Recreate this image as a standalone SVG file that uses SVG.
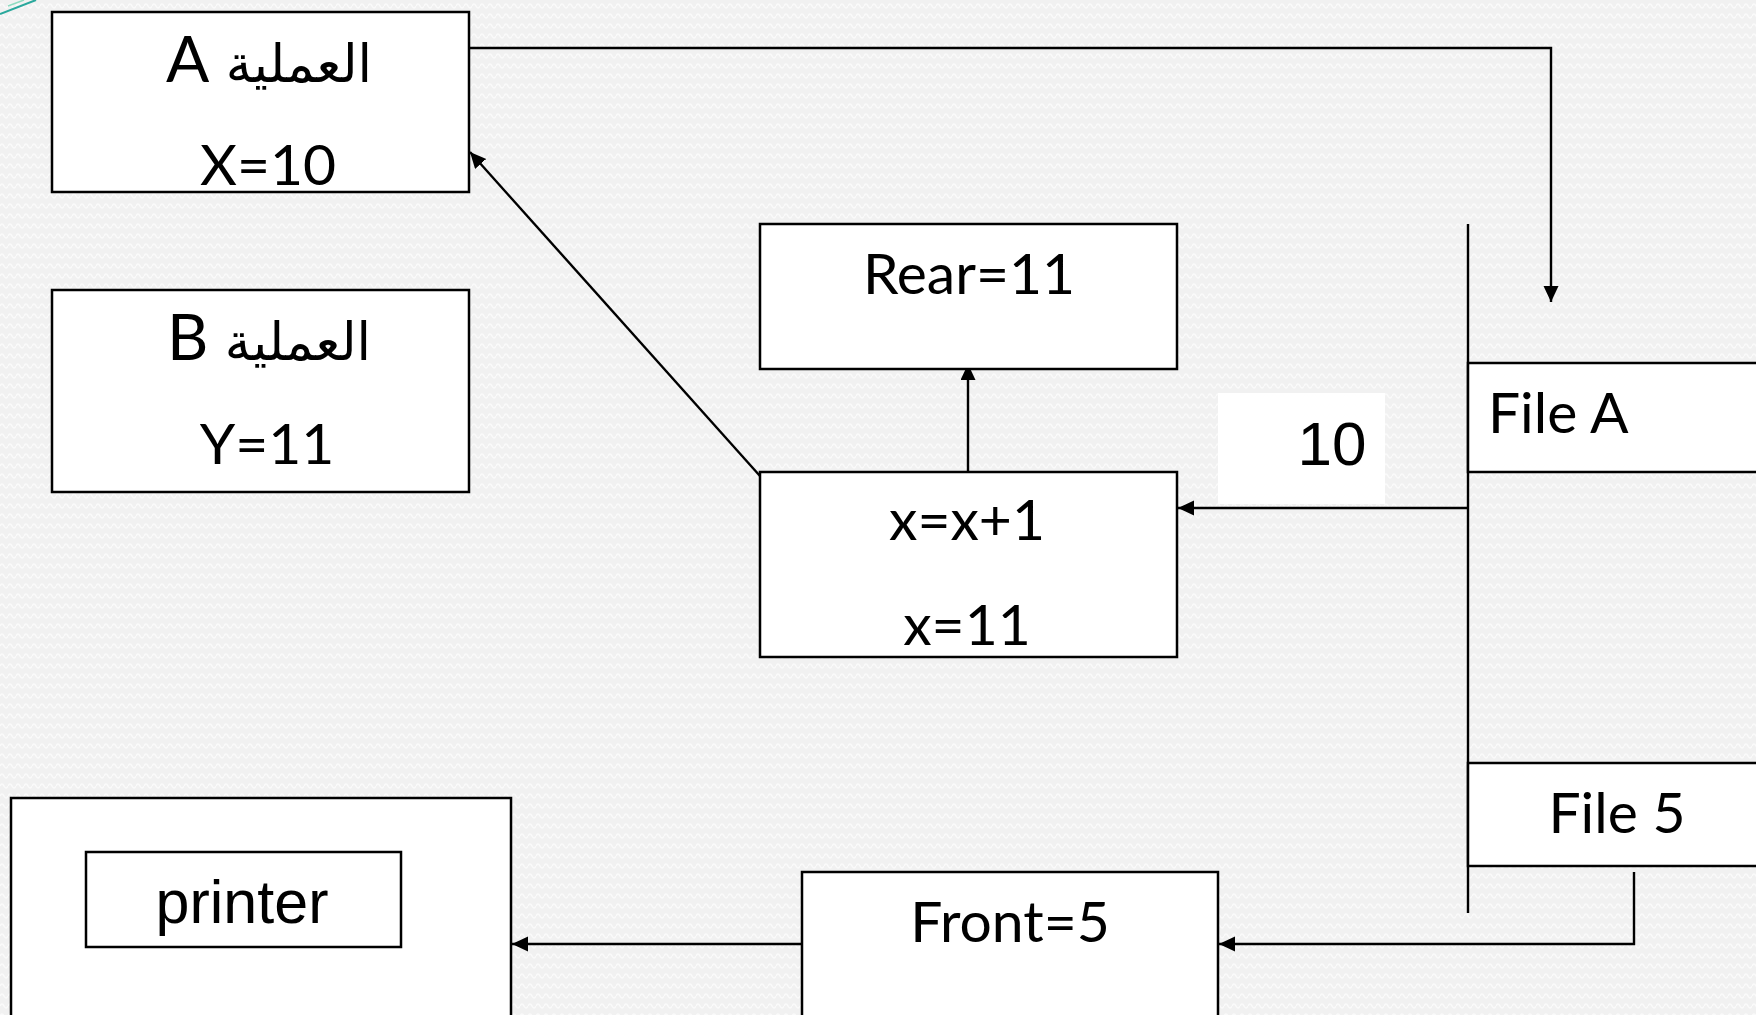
<svg xmlns="http://www.w3.org/2000/svg" width="1756" height="1015" viewBox="0 0 1756 1015">
  <style>
    .box { fill: #ffffff; stroke: #000000; stroke-width: 2.5; }
    .edge { fill: none; stroke: #000000; stroke-width: 2.4; }
    .lbl { font-family: Lato, "DejaVu Sans", sans-serif; font-size: 57px; fill: #000000; }
    .ar { font-family: Lato, "DejaVu Sans", sans-serif; font-size: 64px; fill: #000000; }
    .arw { font-size: 52px; }
    .arial { font-family: "Liberation Sans", Arial, sans-serif; fill: #000000; }
    .mid { text-anchor: middle; }
  </style>
  <defs>
    <!-- soft wavy paper texture -->
    <pattern id="paper" width="8" height="10" patternUnits="userSpaceOnUse">
      <rect width="8" height="10" fill="#f1f1f1"/>
      <path d="M0,6 Q2,2 4,6 T8,6" fill="none" stroke="#fbfbfb" stroke-width="1.6"/>
    </pattern>
    <marker id="arrow" markerUnits="userSpaceOnUse" markerWidth="17" markerHeight="16" refX="16" refY="7.5" orient="auto">
      <path d="M0,0 L16,7.5 L0,15 z" fill="#000000"/>
    </marker>
  </defs>

  <rect width="1756" height="1015" fill="url(#paper)"/>

  <!-- corner flourish -->
  <line x1="0" y1="14" x2="36" y2="0" stroke="#2aa89c" stroke-width="2"/>
  <line x1="8" y1="6" x2="24" y2="0" stroke="#8fdcc0" stroke-width="1.5"/>

  <!-- queue spine -->
  <line x1="1468" y1="224" x2="1468" y2="913" stroke="#000" stroke-width="2.4"/>

  <g id="connectors">
    <path class="edge" d="M470,48 H1551 V302" marker-end="url(#arrow)"/>
    <path class="edge" d="M968,472 V364" marker-end="url(#arrow)"/>
    <path class="edge" d="M760,476 L470,152" marker-end="url(#arrow)"/>
    <path class="edge" d="M1468,508 H1178" marker-end="url(#arrow)"/>
    <path class="edge" d="M1634,872 V944 H1219" marker-end="url(#arrow)"/>
    <path class="edge" d="M802,944 H512" marker-end="url(#arrow)"/>
  </g>

  <g id="process-a">
    <rect class="box" x="52" y="12" width="417" height="180"/>
    <text class="ar mid" x="269" y="82" direction="rtl"><tspan class="arw">العملية</tspan>  A</text>
    <text class="lbl mid" x="268" y="185">X=10</text>
  </g>

  <g id="process-b">
    <rect class="box" x="52" y="290" width="417" height="202"/>
    <text class="ar mid" x="269" y="360" direction="rtl"><tspan class="arw">العملية</tspan>  B</text>
    <text class="lbl mid" x="267" y="464">Y=11</text>
  </g>

  <g id="rear">
    <rect class="box" x="760" y="224" width="417" height="145"/>
    <text class="lbl mid" x="969" y="294">Rear=11</text>
  </g>

  <g id="increment">
    <rect class="box" x="760" y="472" width="417" height="185"/>
    <text class="lbl mid" x="967" y="540">x=x+1</text>
    <text class="lbl mid" x="967" y="645">x=11</text>
  </g>

  <g id="value-10">
    <rect x="1218" y="393" width="167" height="111" fill="#ffffff"/>
    <text class="arial mid" x="1332" y="465" font-size="62">10</text>
  </g>

  <g id="file-a">
    <rect class="box" x="1468" y="363" width="300" height="109"/>
    <text class="lbl" x="1488" y="433">File A</text>
  </g>

  <g id="file-5">
    <rect class="box" x="1468" y="763" width="300" height="103"/>
    <text class="lbl mid" x="1617" y="833">File 5</text>
  </g>

  <g id="front">
    <rect class="box" x="802" y="872" width="416" height="160"/>
    <text class="lbl mid" x="1010" y="942">Front=5</text>
  </g>

  <g id="printer">
    <rect class="box" x="11" y="798" width="500" height="240"/>
    <rect class="box" x="86" y="852" width="315" height="95"/>
    <text class="arial mid" x="242" y="923" font-size="61">printer</text>
  </g>
</svg>
